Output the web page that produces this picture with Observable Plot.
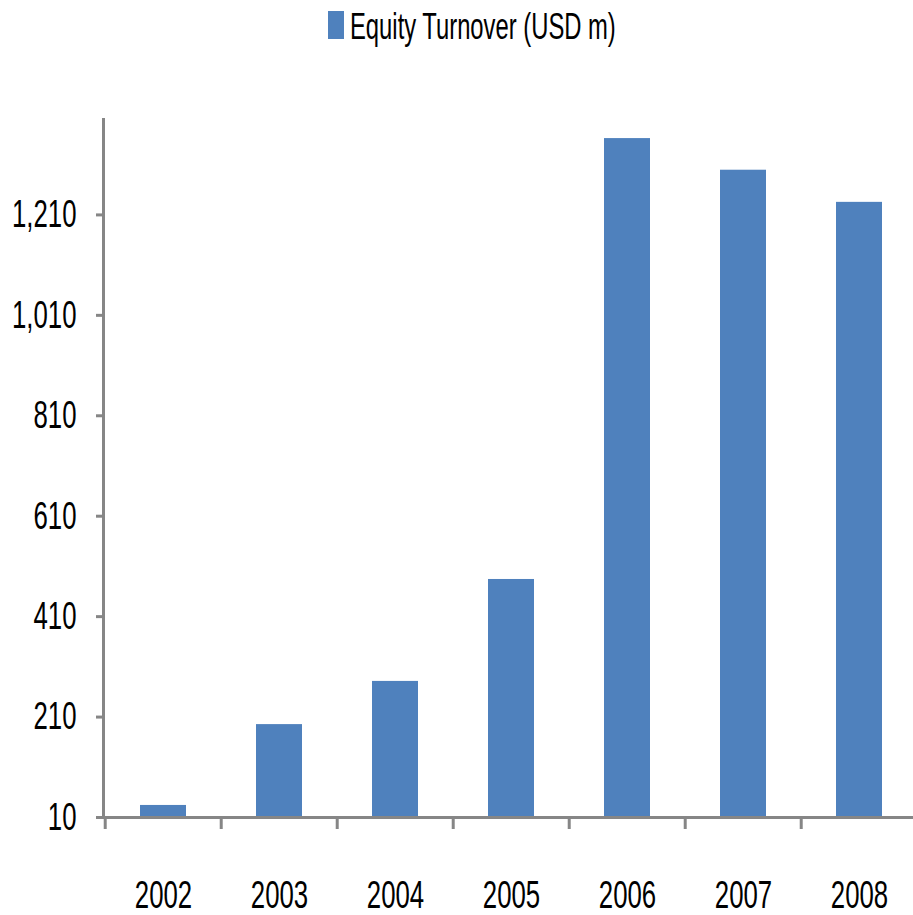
<!DOCTYPE html>
<html>
<head>
<meta charset="utf-8">
<script src="https://cdn.jsdelivr.net/npm/d3@7"></script>
<script src="https://cdn.jsdelivr.net/npm/@observablehq/plot@0.6"></script>
<style>
  html, body { margin: 0; padding: 0; background: #fff; overflow: hidden; width: 913px; height: 915px; }
  #legend { position: relative; height: 60px; width: 913px; }
  #legend .sw { position: absolute; left: 328px; top: 11px; width: 16px; height: 28px; background: #4F81BD; }
  #legend .lb { position: absolute; left: 350px; top: 9px; font-family: 'Liberation Sans Narrow', sans-serif; font-size: 23.8px; line-height: 1; white-space: nowrap; transform: scaleY(1.52); transform-origin: 0 0; color: #000; }
  #chart svg { display: block; max-width: none !important; }
</style>
</head>
<body>
<div id="legend"><div class="sw"></div><div class="lb">Equity Turnover (USD m)</div></div>
<div id="chart"></div>
<script>
const years = ["2002", "2003", "2004", "2005", "2006", "2007", "2008"];
const turnover = [34, 195, 281, 484, 1362, 1299, 1235];
const yTicks = [10, 210, 410, 610, 810, 1010, 1210];
const yDomain = [10, 1400];
const seriesName = "Equity Turnover (USD m)";

const data = years.map((y, i) => ({year: y, value: turnover[i]}));
const W = 919, ML = 103;
const step = (W - ML) / years.length;
const axisColor = "#868686";

const chart = Plot.plot({
  width: W,
  height: 855,
  marginTop: 59,
  marginBottom: 98,
  marginLeft: ML,
  marginRight: 0,
  style: {fontFamily: "'Liberation Sans Narrow', sans-serif", fontSize: "25.8px", color: "#000", background: "#fff", overflow: "visible", maxWidth: "none"},
  x: {domain: years, paddingInner: 0.6, paddingOuter: 0.3, label: null},
  y: {domain: yDomain, label: null},
  marks: [
    Plot.barY(data, {x: "year", y1: yDomain[0], y2: "value", fill: "#4F81BD"}),
    Plot.axisY({ticks: yTicks, tickFormat: d3.format(","), tickSize: 7, tickPadding: 20, stroke: axisColor, strokeWidth: 3, fill: "#000", label: null}),
    Plot.axisX({tickSize: 12, tickFormat: () => "", dx: -step / 2, stroke: axisColor, strokeWidth: 3, label: null}),
    Plot.axisX({tickSize: 0, tickPadding: 63, fill: "#000", label: null}),
    Plot.ruleY([yDomain[0]], {stroke: axisColor, strokeWidth: 3}),
    Plot.frame({anchor: "left", stroke: axisColor, strokeWidth: 3})
  ]
});
document.getElementById("chart").appendChild(chart);

// stretch text vertically to mimic the tall condensed font of the original
chart.querySelectorAll("text").forEach(t => {
  const tr = t.getAttribute("transform");
  if (tr) {
    t.setAttribute("transform", tr + " scale(1,1.5)");
  } else {
    const x = t.getAttribute("x") || 0, y = t.getAttribute("y") || 0;
    t.removeAttribute("x"); t.removeAttribute("y");
    t.setAttribute("transform", `translate(${x},${y}) scale(1,1.5)`);
  }
});
</script>
</body>
</html>
